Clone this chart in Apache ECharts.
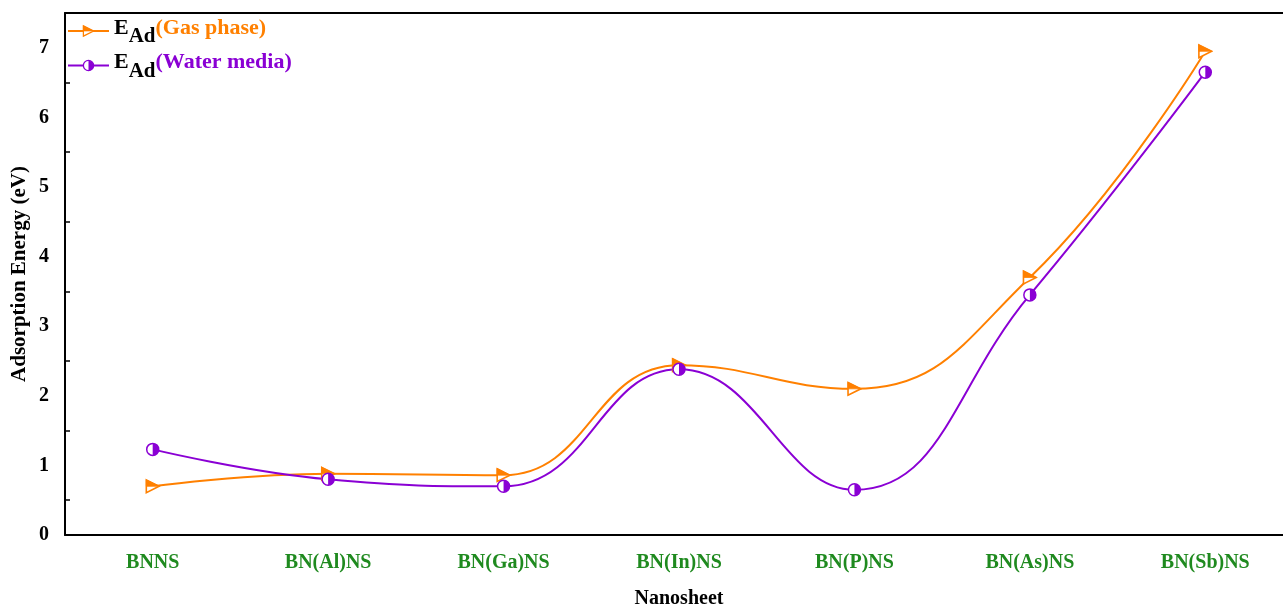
<!DOCTYPE html>
<html><head><meta charset="utf-8">
<script src="https://cdn.jsdelivr.net/npm/echarts@6/dist/echarts.min.js"></script>
<style>html,body{margin:0;padding:0;background:#fff;overflow:hidden}#c{width:1310px;height:606px}</style>
</head><body><div id="c"></div>
<script>
const categories = ['BNNS','BN(Al)NS','BN(Ga)NS','BN(In)NS','BN(P)NS','BN(As)NS','BN(Sb)NS'];
const gasPhase = [0.70, 0.88, 0.86, 2.44, 2.10, 3.70, 6.95];
const waterMedia = [1.23, 0.80, 0.70, 2.38, 0.65, 3.45, 6.65];
const yTicks = [0,1,2,3,4,5,6,7];

const ORANGE = '#ff8000';
const PURPLE = '#8a00d4';
const serif = 'Liberation Serif';

function svgUri(s){ return 'image://data:image/svg+xml;charset=utf-8,' + encodeURIComponent(s); }
const triSym = svgUri('<svg xmlns="http://www.w3.org/2000/svg" width="20" height="20" viewBox="0 0 20 20">'
  + '<polygon points="2,2 18,10 2,18" fill="#fff" stroke="'+ORANGE+'" stroke-width="2"/>'
  + '<polygon points="2,2 18,10 2,10" fill="'+ORANGE+'" stroke="'+ORANGE+'" stroke-width="1"/></svg>');
const cirSym = svgUri('<svg xmlns="http://www.w3.org/2000/svg" width="20" height="20" viewBox="0 0 20 20">'
  + '<circle cx="10" cy="10" r="8" fill="#fff" stroke="'+PURPLE+'" stroke-width="2"/>'
  + '<path d="M10,2 A8,8 0 0 1 10,18 Z" fill="'+PURPLE+'"/></svg>');

const chart = echarts.init(document.getElementById('c'), null, {renderer:'canvas'});
chart.setOption({
  animation:false,
  backgroundColor:'#fff',
  grid:{left:65, right:17, top:13, bottom:71, show:false,
        containLabel:false, outerBoundsMode:'none'},
  legend:{
    left:67, top:17, padding:0, orient:'vertical', itemWidth:41, itemHeight:16, itemGap:4,
    data:['gas','water'],
    formatter:function(n){
      return n==='gas' ? '{e|E}{s|Ad}{g|(Gas phase)}' : '{e|E}{s|Ad}{w|(Water media)}';
    },
    textStyle:{
      fontFamily:serif, fontWeight:'bold', fontSize:22,
      rich:{
        e:{fontFamily:serif, fontWeight:'bold', fontSize:22, color:'#000', padding:[0,0,6,0]},
        s:{fontFamily:serif, fontWeight:'bold', fontSize:21, color:'#000', padding:[12,0,0,0]},
        g:{fontFamily:serif, fontWeight:'bold', fontSize:22, color:ORANGE, padding:[0,0,6,0]},
        w:{fontFamily:serif, fontWeight:'bold', fontSize:22, color:PURPLE, padding:[0,0,6,0]}
      }
    }
  },
  xAxis:[{
    type:'category', data:categories, boundaryGap:true,
    name:'Nanosheet', nameLocation:'middle', nameGap:54,
    nameTextStyle:{fontFamily:serif, fontWeight:'bold', fontSize:20, color:'#000'},
    axisLine:{lineStyle:{color:'#000', width:2}},
    axisTick:{inside:true, alignWithLabel:true, length:9, lineStyle:{color:'#000', width:1.5}},
    axisLabel:{fontFamily:serif, fontWeight:'bold', fontSize:20, color:'#1f8a1f', margin:18},
    splitLine:{show:false}
  },{
    type:'category', data:categories, boundaryGap:true, position:'bottom',
    axisLine:{show:false},
    axisTick:{inside:true, alignWithLabel:false, length:5, lineStyle:{color:'#000', width:1.5}},
    axisLabel:{show:false}, splitLine:{show:false}
  },{
    type:'category', data:categories, boundaryGap:true, position:'top',
    axisLine:{show:true, lineStyle:{color:'#000', width:2}},
    axisTick:{show:false}, axisLabel:{show:false}, splitLine:{show:false}
  }],
  yAxis:{
    type:'value', min:0, max:7.5, interval:1,
    name:'Adsorption Energy (eV)', nameLocation:'middle', nameGap:35, nameMoveOverlap:false,
    nameTextStyle:{fontFamily:serif, fontWeight:'bold', fontSize:21, color:'#000'},
    axisLine:{show:true, lineStyle:{color:'#000', width:2}},
    axisTick:{inside:true, length:9, lineStyle:{color:'#000', width:1.5}},
    minorTick:{show:true, splitNumber:2, length:5, lineStyle:{color:'#000', width:1.5}},
    axisLabel:{fontFamily:serif, fontWeight:'bold', fontSize:20, color:'#000', margin:16, showMaxLabel:false,
      formatter:function(v){ return yTicks.indexOf(v)>=0 ? String(v) : ''; }},
    splitLine:{show:false}
  },
  series:[{
    name:'gas', type:'line', data:gasPhase, smooth:0.45,
    symbol:triSym, symbolSize:16,
    lineStyle:{color:ORANGE, width:2}, itemStyle:{color:ORANGE}
  },{
    name:'water', type:'line', data:waterMedia, smooth:0.45,
    symbol:cirSym, symbolSize:15,
    lineStyle:{color:PURPLE, width:2}, itemStyle:{color:PURPLE}
  }]
});
</script></body></html>
